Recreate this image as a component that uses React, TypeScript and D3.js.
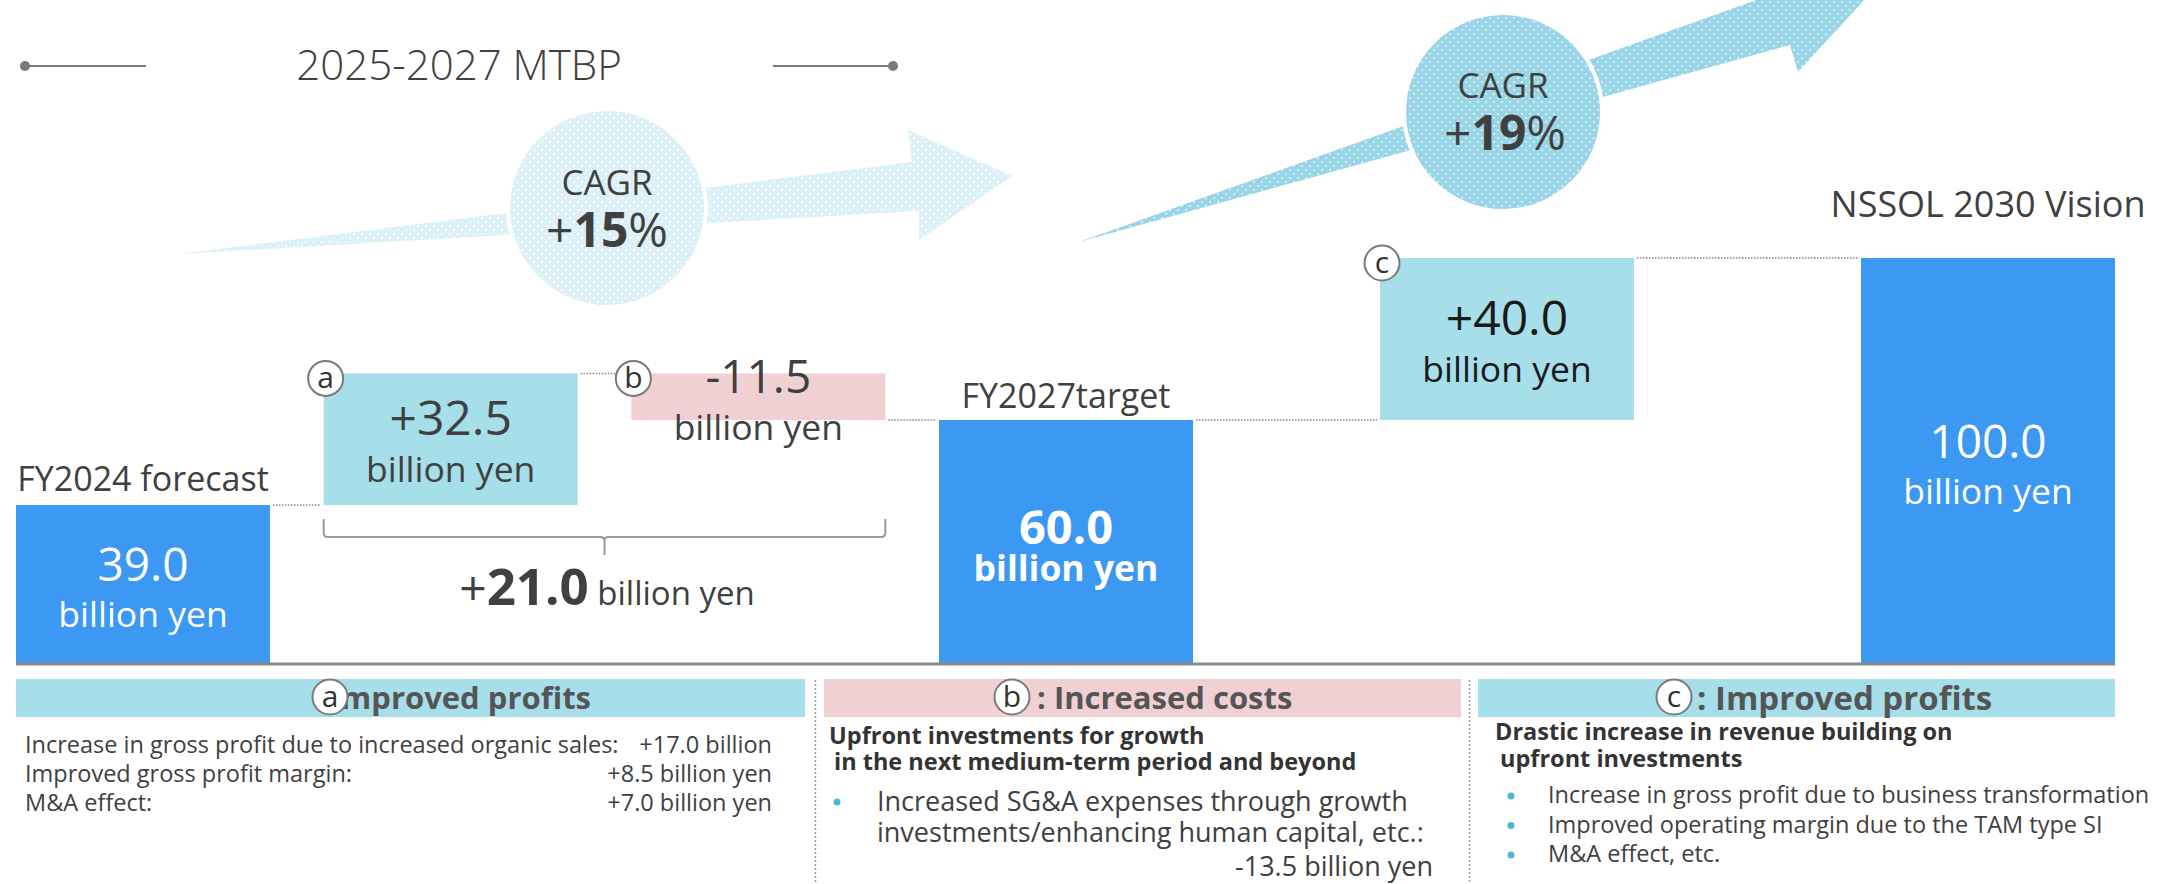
import * as d3 from "d3";
import React from "react";

// waterfall steps
const steps = ["FY2024 forecast", "a", "b", "FY2027target", "c", "NSSOL 2030 Vision"];
const stepValues = [39.0, 32.5, -11.5, 60.0, 40.0, 100.0];
const stepKinds = ["total", "up", "down", "total", "up", "total"];
const stepPhases = ["mtbp", "mtbp", "mtbp", "mtbp", "vision", "vision"];
const valueLabels = ["39.0", "+32.5", "-11.5", "60.0", "+40.0", "100.0"];
const unitLabel = "billion yen";
const bracketTotal = "21.0";
const cagrValues = [15, 19];
const titleText = "2025-2027 MTBP";

// notes under the chart
const aTitle = ": Improved profits";
const aItems = [
  ["Increase in gross profit due to increased organic sales:", "+17.0 billion"],
  ["Improved gross profit margin:", "+8.5 billion yen"],
  ["M&A effect:", "+7.0 billion yen"],
];
const bTitle = ": Increased costs";
const bLead = ["Upfront investments for growth", "in the next medium-term period and beyond"];
const bItems = ["Increased SG&A expenses through growth", "investments/enhancing human capital, etc.:"];
const bAmount = "-13.5 billion yen";
const cTitle = ": Improved profits";
const cLead = ["Drastic increase in revenue building on", "upfront investments"];
const cItems = [
  "Increase in gross profit due to business transformation",
  "Improved operating margin due to the TAM type SI",
  "M&A effect, etc.",
];

const W = 2158;
const H = 884;
const FONT = "'Open Sans', 'Noto Sans', sans-serif";
const TXT = "#404040";
const colors = { total: "#3b98f3", up: "#a6deea", down: "#f1d0d3" };

const Badge = ({ x, y, letter }) => (
  <g>
    <circle cx={x} cy={y} r={17.5} fill="#fff" stroke="#7a7a7a" strokeWidth={2} />
    <text x={x} y={y + 10} textAnchor="middle" fontSize={30} fill="#333" fontFamily={FONT}>
      {letter}
    </text>
  </g>
);

const App = () => {
  const y = d3.scaleLinear().domain([0, 100]).range([663, 258]);

  const xMtbp = d3
    .scaleBand()
    .domain(steps.filter((s, i) => stepPhases[i] === "mtbp"))
    .range([16, 1193])
    .paddingInner(0.1745)
    .paddingOuter(0);
  const xVision = d3
    .scaleBand()
    .domain(steps.filter((s, i) => stepPhases[i] === "vision"))
    .range([1380, 2115])
    .paddingInner(0.472)
    .paddingOuter(0);

  let running = 0;
  const bars = steps.map((s, i) => {
    const v = stepValues[i];
    let v0, v1;
    if (stepKinds[i] === "total") {
      v0 = 0;
      v1 = v;
      running = v;
    } else {
      v0 = running;
      v1 = running + v;
      running += v;
    }
    const sx = stepPhases[i] === "mtbp" ? xMtbp : xVision;
    const x0 = sx(s);
    const w = sx.bandwidth();
    const top = y(Math.max(v0, v1));
    const bottom = y(Math.min(v0, v1));
    return { name: s, kind: stepKinds[i], x0, w, top, bottom, end: y(v1), label: valueLabels[i] };
  });

  const line = d3.line();
  const arrow1 = [[179, 254], [912, 162], [908, 130], [1012, 176], [919, 240], [919, 211]];
  const arrow2 = [[1079, 242], [1762, -2], [1866, -2], [1798, 72], [1790, 45]];

  const connectors = bars.slice(0, -1).map((b, i) => {
    const n = bars[i + 1];
    return { x1: b.x0 + b.w, x2: n.x0, yy: b.end };
  });

  const ba = bars[1];
  const bb = bars[2];
  const bx0 = ba.x0;
  const bx1 = bb.x0 + bb.w;
  const mid = (bx0 + bx1) / 2;

  return (
    <svg width={W} height={H} style={{ position: "absolute", left: 0, top: 0 }} fontFamily={FONT}>
      <defs>
        <pattern id="dotsLight" width={8} height={8} patternUnits="userSpaceOnUse">
          <rect width={8} height={8} fill="#dcf0f7" />
          <circle cx={2} cy={2} r={1} fill="#fff" />
          <circle cx={6} cy={6} r={1} fill="#fff" />
        </pattern>
        <pattern id="dotsDark" width={8} height={8} patternUnits="userSpaceOnUse">
          <rect width={8} height={8} fill="#98d5e6" />
          <circle cx={2} cy={2} r={1} fill="#e8f6fa" />
          <circle cx={6} cy={6} r={1} fill="#e8f6fa" />
        </pattern>
      </defs>

      {/* title */}
      <line x1={25} x2={146} y1={66} y2={66} stroke="#7a7a7a" strokeWidth={2} />
      <circle cx={25} cy={66} r={5} fill="#7a7a7a" />
      <line x1={773} x2={893} y1={66} y2={66} stroke="#7a7a7a" strokeWidth={2} />
      <circle cx={893} cy={66} r={5} fill="#7a7a7a" />
      <text x={459} y={80} textAnchor="middle" fontSize={42} fontWeight={300} fill={TXT}>
        {titleText}
      </text>

      {/* CAGR arrows */}
      <path d={line(arrow1) + "Z"} fill="url(#dotsLight)" />
      <circle cx={607} cy={208} r={99} fill="url(#dotsLight)" stroke="#fff" strokeWidth={4} />
      <text x={607} y={195} textAnchor="middle" fontSize={35} fill={TXT}>CAGR</text>
      <text x={607} y={247} textAnchor="middle" fontSize={48} fill={TXT}>
        +<tspan fontWeight={700}>{cagrValues[0]}</tspan>%
      </text>

      <path d={line(arrow2) + "Z"} fill="url(#dotsDark)" />
      <circle cx={1503} cy={112} r={99} fill="url(#dotsDark)" stroke="#fff" strokeWidth={4} />
      <text x={1503} y={98} textAnchor="middle" fontSize={35} fill={TXT}>CAGR</text>
      <text x={1505} y={150} textAnchor="middle" fontSize={48} fill={TXT}>
        +<tspan fontWeight={700}>{cagrValues[1]}</tspan>%
      </text>

      {/* connectors */}
      {connectors.map((c, i) => (
        <line key={i} x1={c.x1 + 3} x2={c.x2 - 3} y1={c.yy} y2={c.yy} stroke="#888" strokeWidth={1.5} strokeDasharray="1.5 1.5" />
      ))}

      {/* bars */}
      {bars.map((b) => (
        <rect key={b.name} x={b.x0} y={b.top} width={b.w} height={b.bottom - b.top} fill={colors[b.kind]} />
      ))}

      {/* labels */}
      {bars.map((b, i) => {
        const cx = b.x0 + b.w / 2;
        const cy = (b.top + b.bottom) / 2;
        if (b.kind === "total") {
          const bold = i === 3;
          return (
            <g key={b.name}>
              <text x={cx} y={b.top - (i === 5 ? 41 : i === 3 ? 12 : 14)} textAnchor="middle" fontSize={i === 5 ? 36 : 34} fill={TXT}>
                {b.name}
              </text>
              <text x={cx} y={cy + (bold ? 2 : -3)} textAnchor="middle" fontSize={bold ? 47 : 46} fontWeight={bold ? 700 : 400} fill="#fff">
                {b.label}
              </text>
              <text x={cx} y={cy + (bold ? 39 : 43)} textAnchor="middle" fontSize={35.5} fontWeight={bold ? 700 : 400} fill="#fff">
                {unitLabel}
              </text>
            </g>
          );
        }
        const dark = b.name === "c" ? "#1a1a1a" : TXT;
        const vy = b.kind === "down" ? b.top + 20 : cy - 4;
        return (
          <g key={b.name}>
            <text x={cx} y={vy} textAnchor="middle" fontSize={b.kind === "down" ? 46 : 48} fill={dark}>{b.label}</text>
            <text x={cx} y={vy + 47} textAnchor="middle" fontSize={35.5} fill={dark}>{unitLabel}</text>
            <Badge x={b.x0 + 2} y={b.top + 5} letter={b.name} />
          </g>
        );
      })}

      {/* baseline */}
      <line x1={16} x2={2115} y1={664} y2={664} stroke="#8a8a8a" strokeWidth={3} />

      {/* bracket */}
      <path
        d={`M${bx0},519 V533 Q${bx0},537 ${bx0 + 4},537 H${mid - 4} Q${mid},537 ${mid},541 V555 M${mid},541 Q${mid},537 ${mid + 4},537 H${bx1 - 4} Q${bx1},537 ${bx1},533 V519`}
        fill="none"
        stroke="#9a9a9a"
        strokeWidth={2}
      />
      <text x={607} y={605} textAnchor="middle" fill={TXT}>
        <tspan fontSize={48}>+</tspan>
        <tspan fontSize={51} fontWeight={700}>{bracketTotal}</tspan>
        <tspan fontSize={33}> {unitLabel}</tspan>
      </text>

      {/* notes: headers */}
      <rect x={16} y={679} width={789} height={38} fill={colors.up} />
      <rect x={824} y={679} width={637} height={38} fill={colors.down} />
      <rect x={1478} y={679} width={637} height={38} fill={colors.up} />
      <line x1={815.5} x2={815.5} y1={680} y2={884} stroke="#999" strokeWidth={1.5} strokeDasharray="2 2" />
      <line x1={1469.5} x2={1469.5} y1={680} y2={884} stroke="#999" strokeWidth={1.5} strokeDasharray="2 2" />

      <text x={591} y={709} textAnchor="end" fontSize={31} fontWeight={700} fill="#555">{aTitle}</text>
      <Badge x={330} y={697} letter="a" />
      <Badge x={1012} y={697} letter="b" />
      <text x={1037} y={709} fontSize={31} fontWeight={700} fill="#555">{bTitle}</text>
      <Badge x={1674} y={697} letter="c" />
      <text x={1697} y={710} fontSize={33} fontWeight={700} fill="#555">{cTitle}</text>

      {/* notes: a */}
      {aItems.map((d, i) => (
        <g key={i}>
          <text x={25} y={753 + i * 29} fontSize={23.5} fill={TXT}>{d[0]}</text>
          <text x={772} y={753 + i * 29} fontSize={23.5} textAnchor="end" fill={TXT}>{d[1]}</text>
        </g>
      ))}

      {/* notes: b */}
      {bLead.map((t, i) => (
        <text key={i} x={829 + i * 5} y={744 + i * 26} fontSize={23.5} fontWeight={700} fill="#333">{t}</text>
      ))}
      {bItems.map((t, i) => (
        <g key={i}>
          {i === 0 && <circle cx={837} cy={802} r={3.5} fill="#4bb7d6" />}
          <text x={877} y={811 + i * 31} fontSize={27} fill={TXT}>{t}</text>
        </g>
      ))}
      <text x={1433} y={876} textAnchor="end" fontSize={27} fill={TXT}>{bAmount}</text>

      {/* notes: c */}
      {cLead.map((t, i) => (
        <text key={i} x={1495 + i * 5} y={740 + i * 27} fontSize={23.5} fontWeight={700} fill="#333">{t}</text>
      ))}
      {cItems.map((t, i) => (
        <g key={i}>
          <circle cx={1511} cy={796 + i * 29.5} r={3.5} fill="#4bb7d6" />
          <text x={1548} y={803 + i * 29.5} fontSize={23.5} fill={TXT}>{t}</text>
        </g>
      ))}
    </svg>
  );
};

export default App;
